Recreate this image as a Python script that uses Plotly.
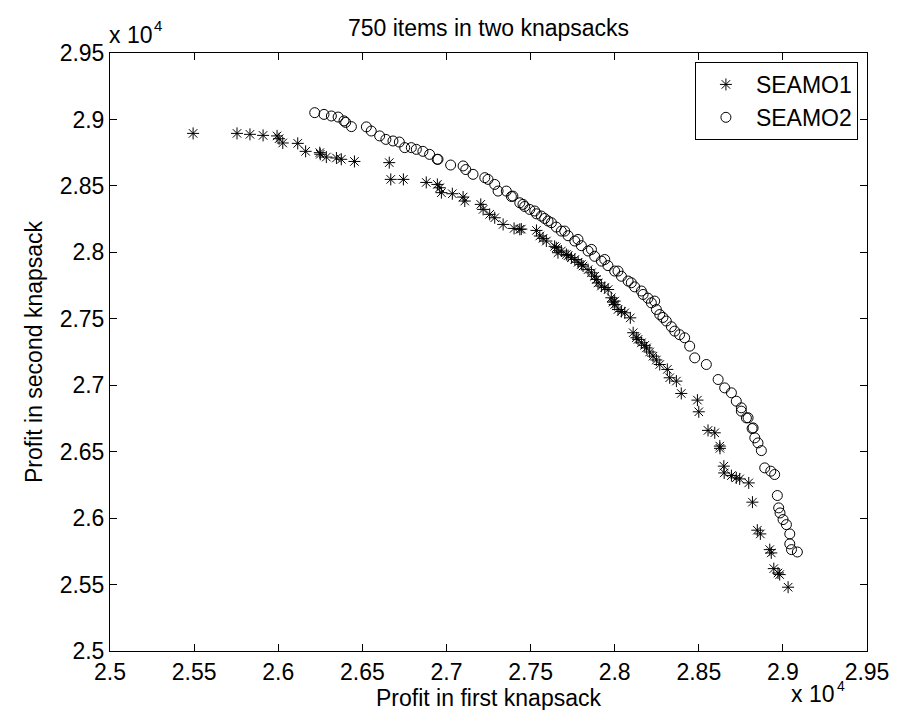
import plotly.graph_objects as go

# SEAMO1 (stars) - profits in first / second knapsack
seamo1_x = [25494, 25755, 25832, 25910, 25993, 26005, 26027, 26116, 26163, 26247,
            26250, 26286, 26346, 26375, 26453, 26660, 26669, 26744, 26880, 26946,
            26960, 26970, 27035, 27099, 27109, 27204, 27218, 27257, 27287, 27337,
            27402, 27436, 27445, 27535, 27555, 27574, 27594, 27643, 27653, 27663,
            27683, 27713, 27723, 27743, 27763, 27783, 27802, 27812, 27842, 27862,
            27881, 27891, 27901, 27921, 27941, 27961, 27980, 27990, 28000, 28000,
            28020, 28040, 28060, 28093, 28110, 28129, 28139, 28159, 28179, 28189,
            28208, 28228, 28248, 28268, 28313, 28327, 28367, 28396, 28492, 28500,
            28555, 28595, 28625, 28626, 28649, 28651, 28694, 28723, 28743, 28797,
            28819, 28848, 28866, 28922, 28931, 28946, 28971, 28981, 29031]
seamo1_y = [28895, 28895, 28888, 28880, 28876, 28855, 28823, 28820, 28760, 28750,
            28738, 28717, 28710, 28700, 28684, 28675, 28549, 28549, 28526, 28511,
            28486, 28449, 28441, 28416, 28386, 28361, 28323, 28286, 28260, 28210,
            28180, 28173, 28175, 28165, 28123, 28105, 28085, 28045, 28035, 27997,
            28010, 27984, 27975, 27960, 27946, 27925, 27909, 27897, 27870, 27846,
            27820, 27796, 27770, 27746, 27735, 27720, 27658, 27625, 27633, 27607,
            27570, 27555, 27545, 27507, 27395, 27357, 27345, 27319, 27300, 27281,
            27250, 27219, 27190, 27156, 27119, 27056, 27031, 26938, 26888, 26800,
            26660, 26642, 26542, 26525, 26391, 26340, 26320, 26303, 26295, 26265,
            26120, 25909, 25881, 25763, 25738, 25620, 25587, 25575, 25480]

# SEAMO2 (circles)
seamo2_x = [26217, 26272, 26316, 26356, 26391, 26401, 26435, 26524, 26553, 26603,
            26640, 26682, 26720, 26752, 26791, 26821, 26860, 26900, 26945, 26950,
            27025, 27099, 27115, 27158, 27228, 27247, 27287, 27307, 27356, 27386,
            27395, 27436, 27455, 27465, 27495, 27525, 27535, 27564, 27584, 27604,
            27624, 27653, 27683, 27703, 27723, 27763, 27782, 27802, 27842, 27862,
            27881, 27921, 27941, 27960, 28000, 28020, 28040, 28080, 28099, 28119,
            28159, 28169, 28198, 28218, 28238, 28248, 28268, 28287, 28307, 28337,
            28357, 28386, 28416, 28446, 28476, 28545, 28615, 28654, 28694, 28723,
            28753, 28753, 28783, 28793, 28817, 28823, 28833, 28852, 28872, 28892,
            28928, 28951, 28967, 28975, 28983, 29001, 29021, 29041, 29041, 29051,
            29086]
seamo2_y = [29051, 29038, 29026, 29018, 28989, 28978, 28946, 28944, 28913, 28876,
            28850, 28838, 28830, 28788, 28788, 28775, 28760, 28737, 28700, 28700,
            28657, 28650, 28623, 28587, 28562, 28549, 28511, 28461, 28461, 28420,
            28423, 28373, 28361, 28345, 28323, 28311, 28290, 28273, 28255, 28236,
            28223, 28190, 28160, 28160, 28125, 28085, 28097, 28050, 28010, 28022,
            27970, 27934, 27946, 27900, 27859, 27859, 27820, 27784, 27771, 27740,
            27709, 27683, 27655, 27620, 27633, 27570, 27532, 27510, 27483, 27440,
            27407, 27380, 27357, 27294, 27206, 27156, 27043, 26980, 26943, 26880,
            26830, 26805, 26754, 26755, 26674, 26679, 26604, 26566, 26508, 26378,
            26353, 26328, 26170, 26077, 26039, 25989, 25951, 25881, 25806, 25763,
            25745]

tick_vals = [25000, 25500, 26000, 26500, 27000, 27500, 28000, 28500, 29000, 29500]
tick_text = ["2.5", "2.55", "2.6", "2.65", "2.7", "2.75", "2.8", "2.85", "2.9", "2.95"]

FONT = "Liberation Sans, Arial, Helvetica, sans-serif"
FS = 23

fig = go.Figure()
fig.add_trace(go.Scatter(
    x=seamo1_x, y=seamo1_y, mode="markers", name="SEAMO1",
    marker=dict(symbol="asterisk-open", size=10, color="black",
                line=dict(color="black", width=1))))
fig.add_trace(go.Scatter(
    x=seamo2_x, y=seamo2_y, mode="markers", name="SEAMO2",
    marker=dict(symbol="circle-open", size=10, color="black",
                line=dict(color="black", width=1))))

axis_common = dict(
    showgrid=False, zeroline=False, showline=True, linecolor="black", linewidth=1,
    mirror="ticks", ticks="inside", ticklen=7, tickcolor="black",
    tickfont=dict(family=FONT, size=FS, color="black"),
    tickvals=tick_vals, ticktext=tick_text, automargin=False,
)


def ann(text, x, y, size, xanchor):
    return dict(text=text, xref="paper", yref="paper", x=x, y=y,
                xanchor=xanchor, yanchor="bottom", showarrow=False, borderpad=0,
                font=dict(family=FONT, size=size, color="black"))


fig.update_layout(
    width=898, height=710,
    margin=dict(l=102, r=39, t=45, b=67),
    paper_bgcolor="white", plot_bgcolor="white",
    font=dict(family=FONT, size=FS, color="black"),
    title=dict(text="750 items in two knapsacks", x=0.5, xref="paper",
               y=0.972, yanchor="middle", font=dict(family=FONT, size=FS, color="black")),
    xaxis=dict(range=[25000, 29500], **axis_common,
               title=dict(text="Profit in first knapsack", standoff=2,
                          font=dict(family=FONT, size=FS, color="black"))),
    yaxis=dict(range=[25000, 29500], **axis_common,
               title=dict(text="Profit in second knapsack", standoff=10,
                          font=dict(family=FONT, size=FS, color="black"))),
    legend=dict(x=0.988, y=0.985, xanchor="right", yanchor="top",
                bgcolor="white", bordercolor="black", borderwidth=1,
                font=dict(family=FONT, size=FS, color="black"),
                itemwidth=50, tracegroupgap=0),
    showlegend=True,
    annotations=[
        ann("x 10", -0.003, 1.006, FS, "left"),
        ann("4", 0.057, 1.03, 15, "left"),
        ann("x 10", 0.958, -0.095, FS, "right"),
        ann("4", 0.959, -0.073, 14, "left"),
    ],
)

fig.write_html("out.html")
